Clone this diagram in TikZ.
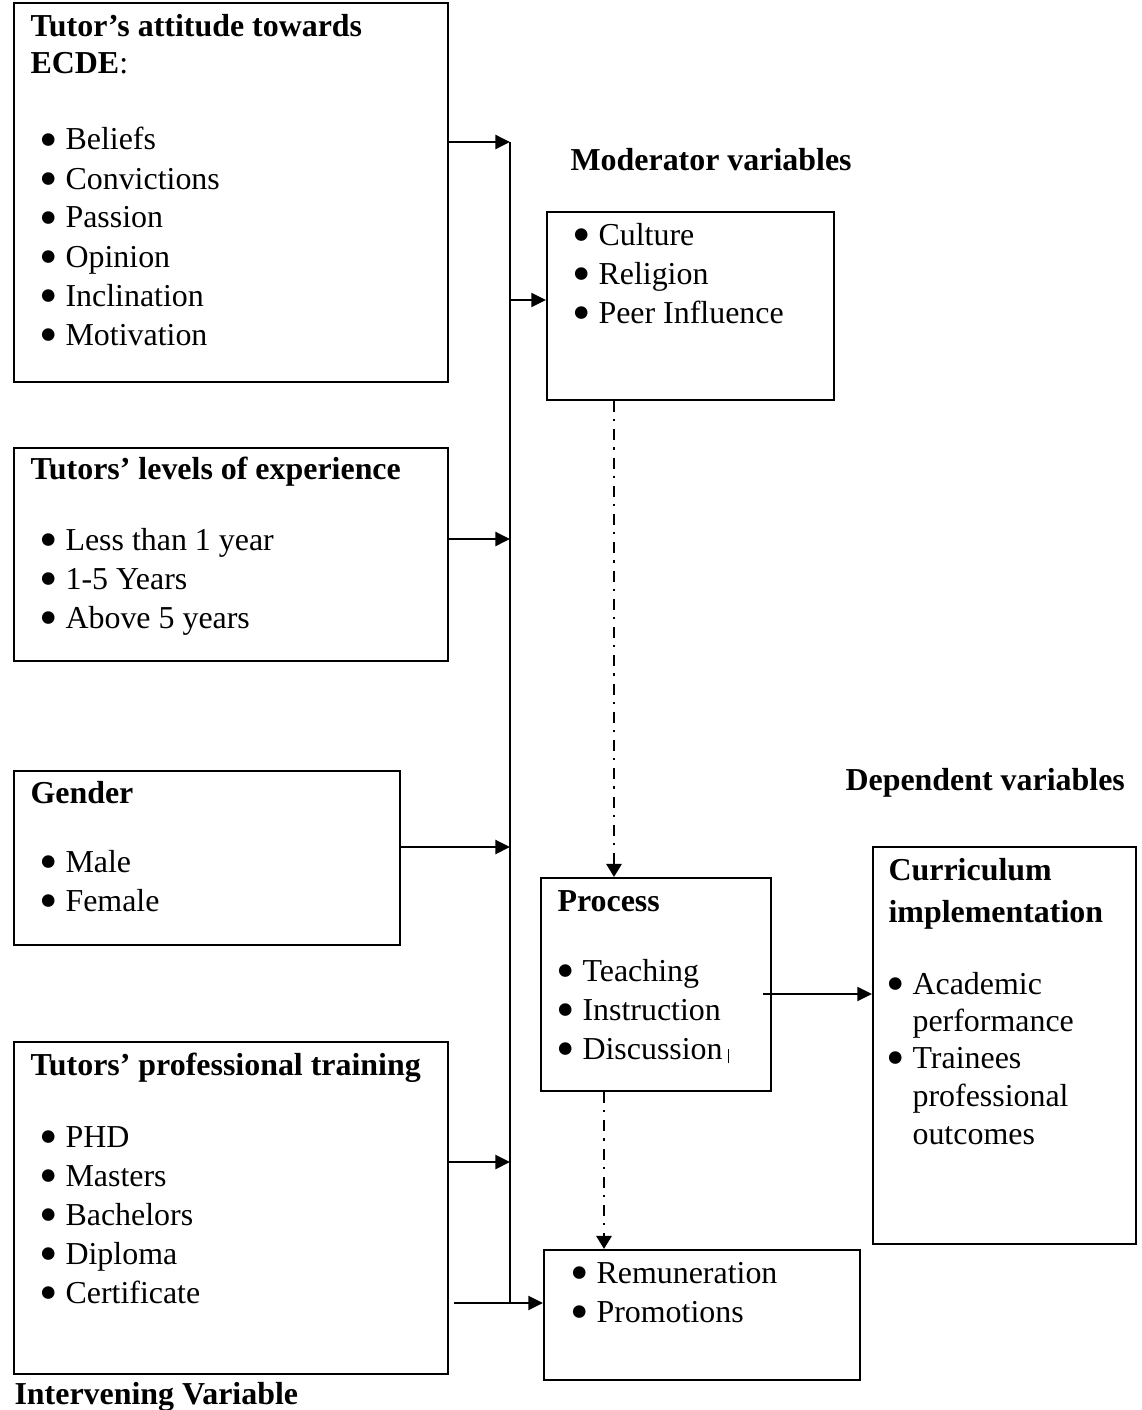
\documentclass[tikz,border=0pt]{standalone}
\usepackage{fontspec}
\setmainfont{Liberation Serif}
\usetikzlibrary{arrows.meta,fit}

\newcommand{\bitem}[1]{\makebox[9.2pt][l]{\smash{\raisebox{-2.6pt}{\scalebox{1.65}{\textbullet}}}}#1}

\begin{document}
\begin{tikzpicture}[
  x=0.354pt, y=-0.354pt,
  font=\fontsize{11.3}{13.8}\selectfont,
  box/.style={draw, line width=0.75pt, inner sep=0pt},
  head/.style={font=\fontsize{11.3}{13.8}\selectfont\bfseries, anchor=base west, inner sep=0pt},
  itm/.style={anchor=base west, inner sep=0pt},
  arr/.style={-{Triangle[length=5.2pt,width=5pt]}, line width=0.75pt},
  dd/.style={-{Triangle[length=4.6pt,width=5.4pt]}, line width=0.75pt,
    dash pattern=on 3.9pt off 2.5pt on 0.8pt off 2.8pt},
]
\useasboundingbox (0,0) rectangle (1142,1410);

% independent variables
\node[box, fit={(14,3) (448,382)}] (att) {};
\node[head] (att-h1) at (30,37) {Tutor’s attitude towards};
\node[head] (att-h2) at (30,74) {ECDE\mdseries:};
\foreach \t [count=\i] in {Beliefs,Convictions,Passion,Opinion,Inclination,Motivation}
  \node[itm] (att-\i) at (39,111+39*\i) {\bitem{\t}};

\node[box, fit={(14,448) (448,661)}] (exp) {};
\node[head] (exp-h) at (30,479) {Tutors’ levels of experience};
\foreach \t [count=\i] in {Less than 1 year,1-5 Years,Above 5 years}
  \node[itm] (exp-\i) at (39,511+39*\i) {\bitem{\t}};

\node[box, fit={(14,771) (400,945)}] (gen) {};
\node[head] (gen-h) at (30,803) {Gender};
\foreach \t [count=\i] in {Male,Female}
  \node[itm] (gen-\i) at (39,833+39*\i) {\bitem{\t}};

\node[box, fit={(14,1042) (448,1374)}] (trn) {};
\node[head] (trn-h) at (30,1075) {Tutors’ professional training};
\foreach \t [count=\i] in {PHD,Masters,Bachelors,Diploma,Certificate}
  \node[itm] (trn-\i) at (39,1108+39*\i) {\bitem{\t}};

\node[head] (int-lbl) at (14,1404) {Intervening Variable};

% moderator variables
\node[head] (mod-lbl) at (570,171) {Moderator variables};
\node[box, fit={(547,212) (834,400)}] (mod) {};
\foreach \t [count=\i] in {Culture,Religion,Peer Influence}
  \node[itm] (mod-\i) at (572,206+39*\i) {\bitem{\t}};

% process
\node[box, fit={(541,878) (771,1091)}] (prc) {};
\node[head] (prc-h) at (557,911) {Process};
\node[itm] (prc-1) at (556,981) {\bitem{Teaching}};
\node[itm] (prc-2) at (556,1020) {\bitem{Instruction}};
\node[itm] (prc-3) at (556,1059) {\bitem{Discussion}\,\rule[-1.5pt]{0.5pt}{5pt}};

\node[box, fit={(544,1250) (860,1380)}] (rem) {};
\node[itm] (rem-1) at (570,1283) {\bitem{Remuneration}};
\node[itm] (rem-2) at (570,1322) {\bitem{Promotions}};

% dependent variables
\node[head] (dep-lbl) at (845,790) {Dependent variables};
\node[box, fit={(873,847) (1136,1244)}] (cur) {};
\node[head] (cur-h1) at (888,880) {Curriculum};
\node[head] (cur-h2) at (888,922) {implementation};
\node[itm] (cur-1) at (886,994) {\bitem{Academic}};
\node[itm] (cur-2) at (912,1031) {performance};
\node[itm] (cur-3) at (886,1068) {\bitem{Trainees}};
\node[itm] (cur-4) at (912,1106) {professional};
\node[itm] (cur-5) at (912,1144) {outcomes};

% connectors
\coordinate (bus-top) at (510,142);
\coordinate (bus-bot) at (510,1303);
\coordinate (bus-mod) at (510,300);
\coordinate (bus-exp) at (510,539);
\coordinate (bus-gen) at (510,847);
\coordinate (bus-trn) at (510,1162);
\coordinate (dd-1) at (614,0);
\coordinate (dd-2) at (604,0);
\coordinate (prc-out) at (763,994);

\draw[line width=0.75pt] (bus-top) -- (bus-bot);
\draw[arr] (att.east |- bus-top) -- (bus-top);
\draw[arr] (bus-mod) -- (mod.west |- bus-mod);
\draw[arr] (exp.east |- bus-exp) -- (bus-exp);
\draw[arr] (gen.east |- bus-gen) -- (bus-gen);
\draw[arr] (trn.east |- bus-trn) -- (bus-trn);
\draw[arr] ([xshift=1.8pt]trn.east |- bus-bot) -- (rem.west |- bus-bot);
\draw[dd] (mod.south -| dd-1) -- (prc.north -| dd-1);
\draw[dd] (prc.south -| dd-2) -- (rem.north -| dd-2);
\draw[arr] (prc-out) -- (cur.west |- prc-out);

\end{tikzpicture}
\end{document}
